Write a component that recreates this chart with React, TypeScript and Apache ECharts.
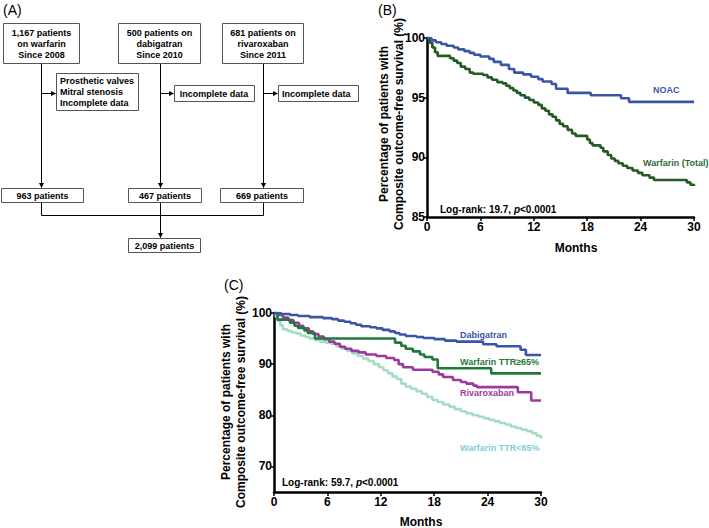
import React, { useEffect, useRef } from 'react';
import * as echarts from 'echarts';

const FONT = '"Liberation Sans", Arial, Helvetica, sans-serif';

// ---------- Data ----------
const monthTicks = [0, 6, 12, 18, 24, 30];
const yTicksB = [85, 90, 95, 100];
const yTicksC = [70, 80, 90, 100];

// Panel B
const noacB: number[][] = [
  [0, 100], [0.5, 99.8], [1.0, 99.65], [1.6, 99.5], [2.2, 99.35], [3.0, 99.2], [3.5, 99.05],
  [4.2, 98.9], [4.8, 98.75], [5.3, 98.6], [6.0, 98.45], [7.0, 98.25], [7.5, 98.0], [8.3, 97.75],
  [9.2, 97.4], [9.8, 97.1], [10.8, 96.95], [11.7, 96.75], [12.5, 96.55], [13.0, 96.35],
  [14.0, 96.15], [14.5, 95.75], [15.8, 95.4], [18.4, 95.2], [21.8, 94.95], [22.7, 94.65], [30, 94.65],
];
const warfarinB: number[][] = [
  [0, 100], [0.3, 99.6], [0.6, 99.2], [0.9, 98.8], [1.2, 98.5], [2.6, 98.3], [3.0, 98.1],
  [3.4, 97.9], [3.8, 97.6], [4.3, 97.4], [4.8, 97.1], [5.2, 97.0], [6.3, 96.9], [6.8, 96.7],
  [7.3, 96.5], [7.9, 96.3], [8.5, 96.2], [8.9, 96.0], [9.3, 95.8], [9.7, 95.6], [10.1, 95.4],
  [10.5, 95.2], [11.0, 95.0], [11.5, 94.8], [12.0, 94.6], [12.5, 94.4], [12.9, 94.1],
  [13.3, 93.9], [13.7, 93.6], [14.1, 93.4], [14.5, 93.1], [14.9, 92.8], [15.3, 92.6],
  [15.8, 92.3], [16.3, 92.0], [16.7, 91.8], [18.0, 91.5], [18.3, 91.2], [18.6, 91.0],
  [19.5, 90.8], [19.8, 90.5], [20.3, 90.2], [20.7, 89.9], [21.1, 89.7], [21.5, 89.5],
  [22.0, 89.3], [22.5, 89.1], [23.1, 88.9], [23.7, 88.7], [24.2, 88.5], [25.0, 88.3],
  [25.5, 88.1], [29.2, 87.9], [29.6, 87.7], [30, 87.6],
];

// Panel C
const dabigatranC: number[][] = [
  [0, 100], [0.8, 99.8], [1.8, 99.6], [2.7, 99.4], [4.0, 99.2], [5.5, 99.0], [6.5, 98.8],
  [7.2, 98.5], [7.9, 98.3], [8.6, 98.0], [9.2, 97.7], [9.8, 97.4], [10.8, 97.2], [11.5, 97.0],
  [12.2, 96.7], [13.0, 96.4], [13.6, 96.1], [14.1, 95.8], [14.8, 95.5], [16.0, 95.3],
  [16.8, 95.1], [18.0, 94.9], [19.2, 94.6], [20.5, 94.4], [23.5, 93.9], [25.0, 93.5],
  [27.7, 92.8], [28.3, 91.8], [30, 91.8],
];
const warfarinHighC: number[][] = [
  [0, 100], [0.4, 98.7], [1.8, 98.1], [2.3, 97.5], [2.7, 97.1], [3.4, 96.6], [3.8, 96.1],
  [4.6, 95.0], [13.6, 94.2], [14.3, 93.6], [14.8, 93.0], [15.6, 92.5], [16.4, 91.9],
  [16.9, 91.4], [17.8, 90.9], [18.4, 89.2], [24.4, 88.2], [30, 88.2],
];
const rivaroxabanC: number[][] = [
  [0, 100], [0.5, 99.6], [1.0, 99.1], [1.6, 98.6], [2.2, 98.1], [2.8, 97.5], [3.3, 97.0],
  [3.9, 96.4], [4.4, 95.9], [5.0, 95.4], [5.6, 94.9], [6.2, 94.4], [6.8, 94.0], [7.4, 93.4],
  [8.0, 93.0], [8.7, 92.6], [9.5, 92.3], [10.3, 91.9], [11.5, 91.6], [12.6, 91.2],
  [13.5, 90.8], [14.0, 90.0], [14.5, 89.4], [15.6, 88.9], [17.8, 88.5], [18.5, 88.0],
  [19.0, 87.5], [20.1, 86.9], [21.0, 86.5], [21.6, 86.2], [22.4, 85.8], [22.8, 85.5],
  [27.4, 84.5], [28.9, 82.9], [30, 82.9],
];
const warfarinLowC: number[][] = [
  [0, 100], [0.2, 99.3], [0.4, 98.5], [0.7, 97.6], [1.0, 96.8], [1.5, 96.5], [2.0, 96.2],
  [2.5, 96.0], [3.0, 95.6], [3.5, 95.3], [4.0, 95.0], [4.6, 94.7], [5.2, 94.4], [5.8, 94.2],
  [6.4, 94.0], [7.0, 93.5], [7.6, 93.0], [8.2, 92.6], [8.8, 92.1], [9.4, 91.6], [10.0, 91.1],
  [10.6, 90.6], [11.2, 90.0], [11.8, 89.4], [12.3, 88.8], [12.8, 88.2], [13.3, 87.6],
  [13.8, 87.1], [14.3, 86.2], [14.8, 85.6], [15.4, 85.2], [16.0, 84.7], [16.6, 84.2],
  [17.2, 83.6], [17.8, 83.0], [18.4, 82.6], [19.0, 82.1], [19.7, 81.7], [20.3, 81.2],
  [21.0, 80.8], [21.6, 80.4], [22.3, 80.0], [23.0, 79.7], [23.6, 79.4], [24.2, 79.1],
  [24.8, 78.8], [25.4, 78.5], [26.0, 78.2], [26.6, 77.8], [27.2, 77.5], [27.8, 77.2],
  [28.4, 76.9], [29.0, 76.5], [29.5, 76.0], [30, 75.4],
];

// Flowchart texts
const sourceBoxes = [
  '1,167 patients\non warfarin\nSince 2008',
  '500 patients on\ndabigatran\nSince 2010',
  '681 patients on\nrivaroxaban\nSince 2011',
];
const exclusionBoxes = [
  'Prosthetic valves\nMitral stenosis\nIncomplete data',
  'Incomplete data',
  'Incomplete data',
];
const resultBoxes = ['963 patients', '467 patients', '669 patients'];
const totalBox = '2,099 patients';

// ---------- helpers ----------
const BLUE = '#3a55a6';
const DKGREEN = '#245a26';
const GREEN = '#1f7a3a';
const PURPLE = '#9b3a9c';
const TEAL = '#a6dcc6';
const TEAL_TXT = '#7fcfd6';

function rect(x: number, y: number, w: number, h: number) {
  return {
    type: 'rect',
    shape: { x: x + 0.5, y: y + 0.5, width: w, height: h },
    style: { fill: '#fff', stroke: '#555', lineWidth: 1 },
    z: 10,
  };
}
function line(x1: number, y1: number, x2: number, y2: number) {
  return {
    type: 'line',
    shape: { x1: x1 + 0.5, y1: y1 + 0.5, x2: x2 + 0.5, y2: y2 + 0.5 },
    style: { stroke: '#000', lineWidth: 1 },
    z: 5,
  };
}
function arrowDown(x: number, y: number) {
  return {
    type: 'polygon',
    shape: { points: [[x + 0.5 - 2.5, y - 5], [x + 0.5 + 2.5, y - 5], [x + 0.5, y]] },
    style: { fill: '#000' },
    z: 11,
  };
}
function arrowRight(x: number, y: number) {
  return {
    type: 'polygon',
    shape: { points: [[x - 5, y + 0.5 - 2.5], [x - 5, y + 0.5 + 2.5], [x, y + 0.5]] },
    style: { fill: '#000' },
    z: 11,
  };
}
function txt(
  text: string, x: number, y: number, opts: any = {}
) {
  return {
    type: 'text',
    x, y,
    rotation: opts.rotation || 0,
    z: 20,
    style: {
      text,
      fill: opts.color || '#000',
      fontSize: opts.size || 9,
      fontWeight: opts.weight || 'bold',
      fontFamily: FONT,
      fontStyle: opts.italic ? 'italic' : 'normal',
      textAlign: opts.align || 'center',
      textVerticalAlign: 'middle',
      lineHeight: opts.lineHeight || 11,
      rich: opts.rich,
    },
  };
}
function logRank(stat: string, x: number, y: number) {
  return {
    type: 'text',
    x, y,
    z: 20,
    style: {
      text: `{a|Log-rank: ${stat}, }{b|p}{a|<0.0001}`,
      textAlign: 'left',
      textVerticalAlign: 'middle',
      rich: {
        a: { fontSize: 10, fontWeight: 'bold', fontFamily: FONT, fill: '#000', color: '#000' },
        b: { fontSize: 10, fontWeight: 'bold', fontStyle: 'italic', fontFamily: FONT, fill: '#000', color: '#000' },
      },
    },
  };
}

function buildGraphic() {
  const g: any[] = [];
  // panel letters
  g.push(txt('(A)', 3, 10, { size: 14, weight: 'normal', align: 'left' }));
  g.push(txt('(B)', 378, 10, { size: 14, weight: 'normal', align: 'left' }));
  g.push(txt('(C)', 224, 285, { size: 14, weight: 'normal', align: 'left' }));

  // ----- flowchart -----
  const srcX = [[3, 76], [118, 82], [222, 81]];
  const colX = [41, 160, 263];
  srcX.forEach(([x, w], i) => {
    g.push(rect(x, 23, w, 40));
    g.push(txt(sourceBoxes[i], x + w / 2 + 0.5, 44, { lineHeight: 11 }));
  });
  // vertical lines from source boxes to result boxes
  colX.forEach((cx) => {
    g.push(line(cx, 63, cx, 187));
    g.push(arrowDown(cx, 188));
  });
  // exclusion boxes
  g.push(rect(56, 73, 82, 37));
  g.push(txt(exclusionBoxes[0], 60, 92, { align: 'left', lineHeight: 11 }));
  g.push(rect(174, 85, 80, 16));
  g.push(txt(exclusionBoxes[1], 214, 93.5));
  g.push(rect(278, 85, 80, 16));
  g.push(txt(exclusionBoxes[2], 282, 93.5, { align: 'left' }));
  // horizontal arrows
  g.push(line(41, 93, 55, 93));
  g.push(arrowRight(56, 93));
  g.push(line(160, 93, 173, 93));
  g.push(arrowRight(174, 93));
  g.push(line(263, 93, 277, 93));
  g.push(arrowRight(278, 93));
  // result boxes
  const resX = [[1, 82], [128, 73], [220, 83]];
  resX.forEach(([x, w], i) => {
    g.push(rect(x, 188, w, 14));
    g.push(txt(resultBoxes[i], x + w / 2 + 0.5, 195.5));
  });
  // merging lines
  g.push(line(41, 202, 41, 215));
  g.push(line(263, 202, 263, 215));
  g.push(line(41, 215, 263, 215));
  g.push(line(160, 202, 160, 237));
  g.push(arrowDown(160, 238));
  g.push(rect(128, 238, 72, 14));
  g.push(txt(totalBox, 164.5, 245.5));

  // ----- panel B annotations -----
  g.push(txt('Percentage of patients with', 384, 124, { size: 12, rotation: Math.PI / 2 }));
  g.push(txt('Composite outcome-free survival (%)', 399, 124, { size: 12, rotation: Math.PI / 2 }));
  g.push(txt('Months', 576, 248, { size: 12 }));
  g.push(logRank('19.7', 440, 209));
  g.push(txt('NOAC', 653, 90, { align: 'left', color: BLUE }));
  g.push(txt('Warfarin (Total)', 643, 163, { align: 'left', color: '#2f6b2f' }));

  // ----- panel C annotations -----
  g.push(txt('Percentage of patients with', 226, 402, { size: 12, rotation: Math.PI / 2 }));
  g.push(txt('Composite outcome-free survival (%)', 241, 402, { size: 12, rotation: Math.PI / 2 }));
  g.push(txt('Months', 421, 522, { size: 12 }));
  g.push(logRank('59.7', 282, 482));
  g.push(txt('Dabigatran', 460, 335, { align: 'left', color: BLUE }));
  g.push(txt('Warfarin TTR\u226565%', 460, 362, { align: 'left', color: GREEN }));
  g.push(txt('Rivaroxaban', 460, 393, { align: 'left', color: PURPLE }));
  g.push(txt('Warfarin TTR<65%', 460, 448, { align: 'left', color: TEAL_TXT }));
  return g;
}

function xAxisFor(gridIndex: number) {
  return {
    gridIndex,
    type: 'value',
    min: 0,
    max: 30,
    interval: 6,
    axisLine: { show: true, onZero: false, lineStyle: { color: '#000', width: 2.5 } },
    axisTick: { show: true, length: 4, lineStyle: { color: '#000', width: 1.5 }, customValues: monthTicks },
    axisLabel: { color: '#000', fontSize: 12, fontWeight: 'bold', fontFamily: FONT, margin: 4, customValues: monthTicks },
    splitLine: { show: false },
  };
}
function yAxisFor(gridIndex: number, min: number, max: number, ticks: number[]) {
  return {
    gridIndex,
    type: 'value',
    min,
    max,
    axisLine: { show: true, onZero: false, lineStyle: { color: '#000', width: 2.5 } },
    axisTick: { show: true, length: 4, lineStyle: { color: '#000', width: 1.5 }, customValues: ticks },
    axisLabel: { color: '#000', fontSize: 12, fontWeight: 'bold', fontFamily: FONT, margin: 2, customValues: ticks },
    splitLine: { show: false },
  };
}
function km(data: number[][], color: string, xi: number, z: number) {
  return {
    type: 'line',
    xAxisIndex: xi,
    yAxisIndex: xi,
    data,
    step: 'end',
    showSymbol: false,
    symbol: 'none',
    z,
    lineStyle: { color, width: 2.6 },
    itemStyle: { color },
  };
}

export default function App() {
  const ref = useRef<HTMLDivElement>(null);
  useEffect(() => {
    if (!ref.current) return;
    const chart = echarts.init(ref.current, undefined, { renderer: 'svg' });
    chart.setOption({
      animation: false,
      backgroundColor: '#fff',
      grid: [
        { left: 427, top: 38, width: 267, height: 179 },
        { left: 274, top: 313, width: 267, height: 179 },
      ],
      xAxis: [xAxisFor(0), xAxisFor(1)],
      yAxis: [yAxisFor(0, 85, 100, yTicksB), yAxisFor(1, 65, 100, yTicksC)],
      series: [
        km(noacB, BLUE, 0, 3),
        km(warfarinB, DKGREEN, 0, 2),
        km(warfarinLowC, TEAL, 1, 1),
        km(rivaroxabanC, PURPLE, 1, 2),
        km(warfarinHighC, GREEN, 1, 3),
        km(dabigatranC, BLUE, 1, 4),
      ],
      graphic: buildGraphic(),
    });
    return () => chart.dispose();
  }, []);
  return (
    <div
      ref={ref}
      style={{ position: 'fixed', left: 0, top: 0, width: 709, height: 528, background: '#fff' }}
    />
  );
}
